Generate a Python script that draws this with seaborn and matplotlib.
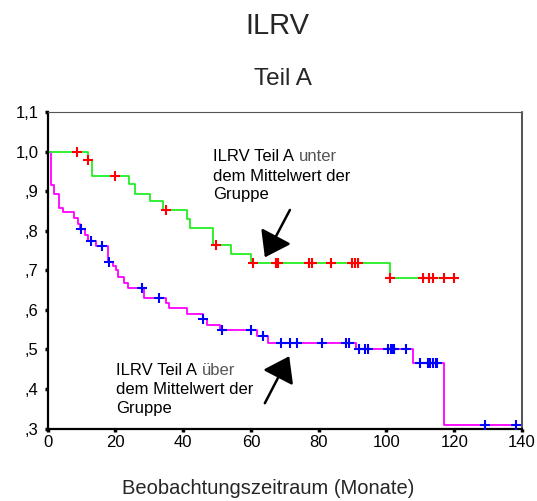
import numpy as np
import pandas as pd
import matplotlib
matplotlib.use("Agg")
import matplotlib.pyplot as plt
import seaborn as sns

# Gruppe "unter dem Mittelwert": Stufen (Zeit, Überleben) und zensierte Fälle
unter_zeit = [0.0, 12.0, 13.0, 24.0, 25.8, 30.1, 34.0, 41.1, 42.1, 48.7, 54.1, 59.9, 101.0]
unter_surv = [1.0, 0.979, 0.938, 0.918, 0.894, 0.875, 0.853, 0.830, 0.808, 0.764, 0.741, 0.719, 0.682]
unter_zensiert = [8.8, 12.0, 19.9, 34.9, 49.6, 60.7, 67.3, 68.1, 77.2, 78.0, 83.6, 89.9, 90.7, 91.7,
                  101.0, 110.8, 112.6, 113.6, 117.0, 120.0]

# Gruppe "über dem Mittelwert"
ueber_zeit = [0.0, 0.9, 1.9, 3.3, 4.5, 7.8, 9.0, 9.5, 11.0, 12.0, 14.4, 17.9, 19.2, 20.1, 20.8,
              22.6, 23.8, 28.5, 34.8, 35.8, 41.2, 45.8, 46.9, 50.8, 61.7, 65.1, 91.1, 107.9, 117.0]
ueber_surv = [1.0, 0.917, 0.894, 0.859, 0.847, 0.832, 0.818, 0.806, 0.790, 0.774, 0.762, 0.721, 0.710,
              0.700, 0.684, 0.669, 0.656, 0.631, 0.618, 0.604, 0.590, 0.576, 0.562, 0.548, 0.535,
              0.516, 0.500, 0.466, 0.309]
ueber_zensiert = [9.7, 12.7, 16.1, 18.1, 27.7, 32.9, 45.9, 51.6, 59.9, 63.6, 68.8, 71.6, 73.5, 81.0,
                  88.2, 89.0, 91.9, 93.6, 94.6, 100.5, 101.2, 101.7, 102.2, 105.9, 109.8, 112.3,
                  113.0, 113.7, 114.5, 115.0, 129.0, 138.1]

x_ticks = [0, 20, 40, 60, 80, 100, 120, 140]
y_ticks = [0.3, 0.4, 0.5, 0.6, 0.7, 0.8, 0.9, 1.0, 1.1]
y_labels = [",3", ",4", ",5", ",6", ",7", ",8", ",9", "1,0", "1,1"]


def stufen(zeit, surv, zensiert):
    # Linie bis zum letzten Beobachtungszeitpunkt verlängern
    t = list(zeit) + [max(zensiert)]
    s = list(surv) + [surv[-1]]
    linie = pd.DataFrame({"t": t, "s": s})
    idx = np.searchsorted(zeit, zensiert, side="right") - 1
    marken = pd.DataFrame({"t": zensiert, "s": np.asarray(surv)[idx]})
    return linie, marken


sns.set_theme(style="white")
plt.rcParams["font.family"] = ["Liberation Sans", "DejaVu Sans"]

fig = plt.figure(figsize=(5.37, 5.01), dpi=100)
ax = fig.add_axes([0.0888, 0.1447, 0.8832, 0.6311])

linie_u, marken_u = stufen(unter_zeit, unter_surv, unter_zensiert)
linie_o, marken_o = stufen(ueber_zeit, ueber_surv, ueber_zensiert)

sns.lineplot(data=linie_o, x="t", y="s", ax=ax, color="#FF00FF", linewidth=1.3,
             drawstyle="steps-post", estimator=None, sort=False)
sns.lineplot(data=linie_u, x="t", y="s", ax=ax, color="#22EE22", linewidth=1.3,
             drawstyle="steps-post", estimator=None, sort=False)
sns.scatterplot(data=marken_o, x="t", y="s", ax=ax, marker="+", s=60, color="#0000FF",
                linewidth=1.5, zorder=5)
sns.scatterplot(data=marken_u, x="t", y="s", ax=ax, marker="+", s=60, color="#FF0000",
                linewidth=1.5, zorder=5)

ax.set_xlim(0, 140)
ax.set_ylim(0.3, 1.1)
ax.set_xticks(x_ticks)
ax.set_xticklabels([str(v) for v in x_ticks])
ax.set_yticks(y_ticks)
ax.set_yticklabels(y_labels)
ax.set_xlabel("")
ax.set_ylabel("")
ax.tick_params(axis="both", direction="out", length=2.5, width=2.5, color="black",
               labelsize=12, pad=2, labelcolor="black")
ax.tick_params(axis="y", pad=4)
ax.tick_params(bottom=True, left=True)

ax.spines["left"].set_linewidth(1.6)
ax.spines["bottom"].set_linewidth(1.6)
ax.spines["left"].set_color("black")
ax.spines["bottom"].set_color("black")
ax.spines["right"].set_linewidth(1.1)
ax.spines["right"].set_color("#222222")
ax.spines["top"].set_linewidth(0.8)
ax.spines["top"].set_color("#555555")

# Beschriftungen mit Pfeilen
txt_kw = dict(fontsize=12, color="black", va="center", ha="left")
t1 = ax.text(48.8, 0.987, "ILRV Teil A", **txt_kw)
ax.annotate("unter", xy=(1, 0.5), xycoords=t1, xytext=(3.5, 0), textcoords="offset points",
            fontsize=12, color="#555555", va="center", ha="left")
ax.text(48.8, 0.938, "dem Mittelwert der", **txt_kw)
ax.text(48.8, 0.891, "Gruppe", **txt_kw)

t2 = ax.text(20.3, 0.446, "ILRV Teil A", **txt_kw)
ax.annotate("über", xy=(1, 0.5), xycoords=t2, xytext=(3.5, 0), textcoords="offset points",
            fontsize=12, color="#555555", va="center", ha="left")
ax.text(20.3, 0.398, "dem Mittelwert der", **txt_kw)
ax.text(20.3, 0.351, "Gruppe", **txt_kw)

pfeil = dict(arrowstyle="-|>,head_length=1.0,head_width=0.7", color="black", lw=1.8,
             mutation_scale=15, shrinkA=0, shrinkB=0)
ax.annotate("", xy=(64.1, 0.733), xytext=(71.5, 0.853), arrowprops=pfeil)
ax.annotate("", xy=(71.3, 0.483), xytext=(64.1, 0.364), arrowprops=pfeil)

fig.text(0.517, 0.948, "ILRV", fontsize=21, ha="center", va="center")
fig.text(0.527, 0.842, "Teil A", fontsize=17.5, ha="center", va="center")
fig.text(0.499, 0.024, "Beobachtungszeitraum (Monate)", fontsize=14.5, ha="center", va="center")

fig.savefig("out.png", dpi=100)
